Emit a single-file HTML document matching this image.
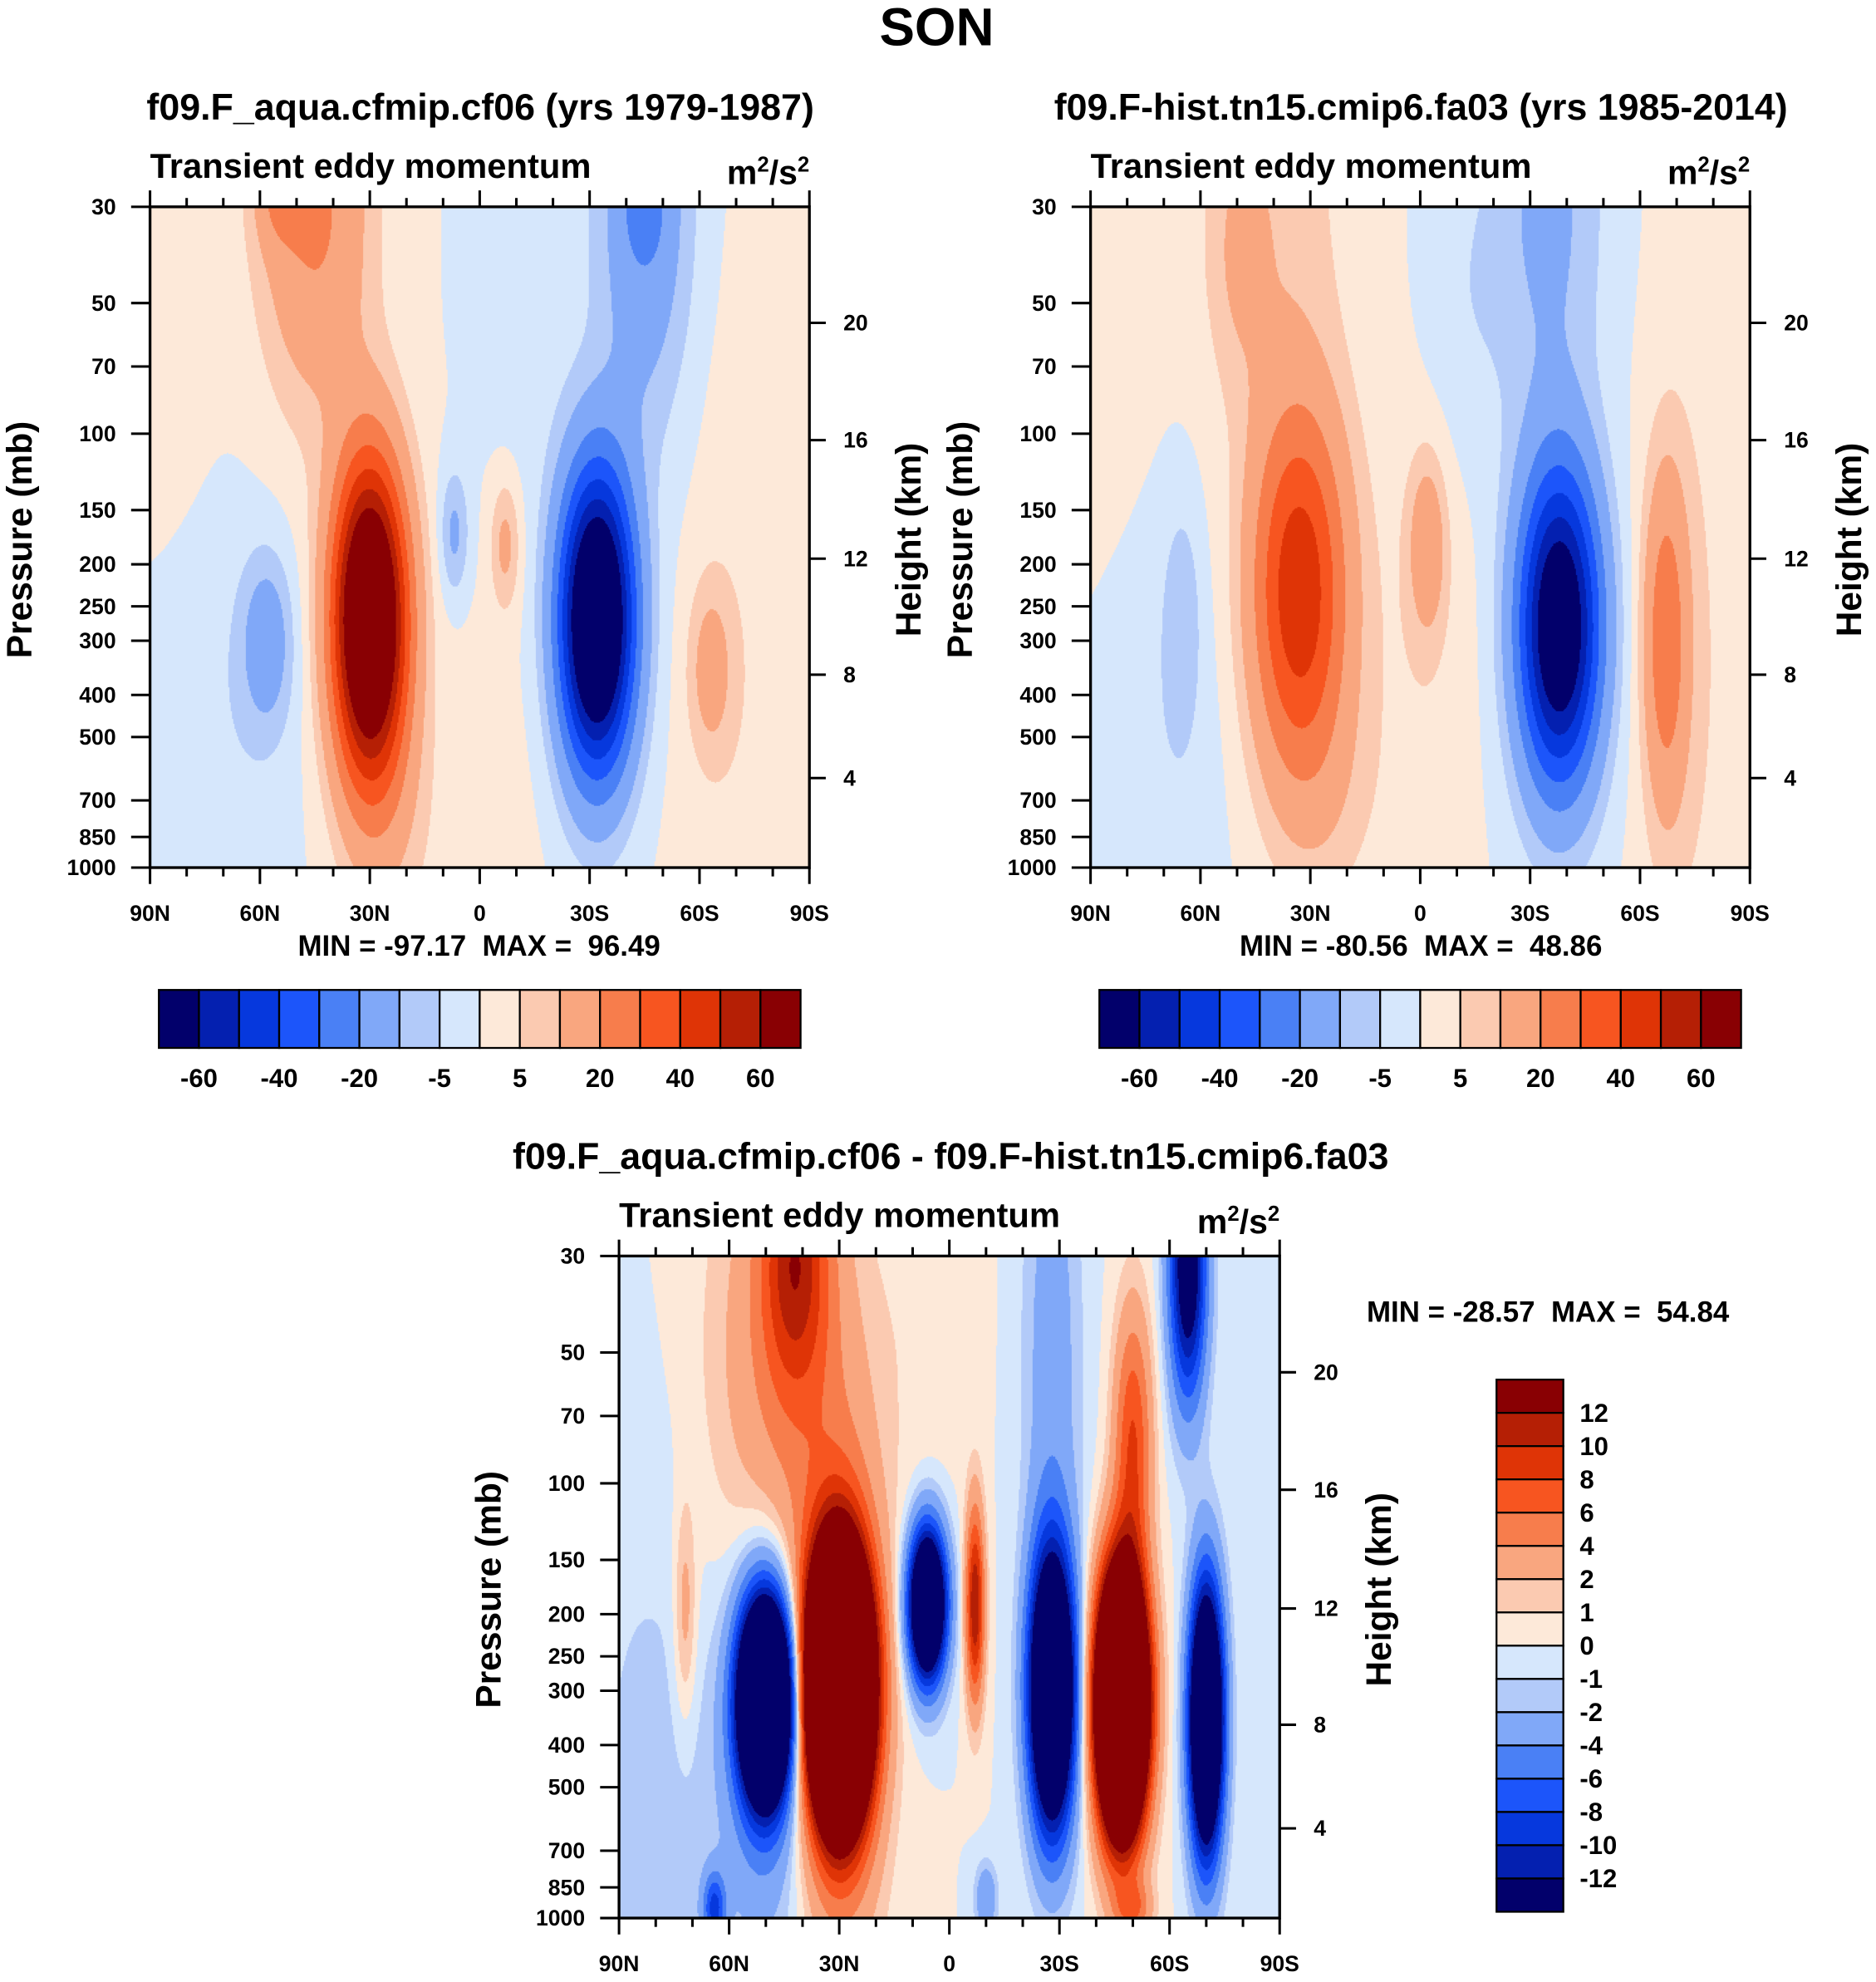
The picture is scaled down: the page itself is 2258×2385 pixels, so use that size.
<!DOCTYPE html>
<html><head><meta charset="utf-8">
<style>
html,body{margin:0;padding:0;background:#fff;}
#wrap{position:absolute;left:0;top:0;width:2258px;height:2385px;overflow:hidden;}
#page{position:absolute;left:0;top:0;width:1488px;height:1572px;transform:scale(1.51747,1.51747);transform-origin:0 0;}
canvas{position:absolute;}
svg{position:absolute;left:0;top:0;}
text{font-family:"Liberation Sans",Arial,sans-serif;font-weight:bold;fill:#000;white-space:pre;}
</style></head>
<body>
<div id="wrap">
<div id="page">
<canvas id="c1" style="left:119px;top:164px;width:523px;height:524px" width="1046" height="1048"></canvas>
<canvas id="c2" style="left:865px;top:164px;width:523px;height:524px" width="1046" height="1048"></canvas>
<canvas id="c3" style="left:491px;top:996px;width:524px;height:525px" width="1048" height="1050"></canvas>
<svg id="ov" width="1488" height="1572" viewBox="0 0 1488 1572">
<text x="743" y="36" font-size="42" text-anchor="middle">SON</text>
<text x="381" y="95" font-size="29.5" text-anchor="middle">f09.F_aqua.cfmip.cf06 (yrs 1979-1987)</text>
<text x="1127" y="95" font-size="29.5" text-anchor="middle">f09.F-hist.tn15.cmip6.fa03 (yrs 1985-2014)</text>
<text x="754" y="927" font-size="29.5" text-anchor="middle">f09.F_aqua.cfmip.cf06 - f09.F-hist.tn15.cmip6.fa03</text>
</svg>
</div></div>
<script>
// ---------- data ----------
const levels12 = [-60,-50,-40,-30,-20,-10,-5,0,5,10,20,30,40,50,60];
const levelsDiff = [-12,-10,-8,-6,-4,-2,-1,0,1,2,4,6,8,10,12];
const palette = ["#02006b","#0420b0","#0638dd","#1c55fa","#4a80f5","#80a8f8","#b2caf9","#d6e7fc","#fde9d9","#fbcab1","#f9a67f","#f77d4c","#f75520","#df3406","#b51f05","#890003"];
const latTicks = [90,60,30,0,-30,-60,-90];
const latTickLabels = ["90N","60N","30N","0","30S","60S","90S"];
const presTicks = [30,50,70,100,150,200,250,300,400,500,700,850,1000];
const heightTicks = [20,16,12,8,4];
const heightFrac = [0.1756,0.3531,0.5324,0.7080,0.8645];
const cbLabels12 = ["-60","-40","-20","-5","5","20","40","60"];
const cbLabelsDiff = ["12","10","8","6","4","2","1","0","-1","-2","-4","-6","-8","-10","-12"];
// blob features: latitude, pressure (mb), amplitude, lat width (deg), log-p width
const p1Lat = [30, 45, 55, -32, -45, -45, 58, 68, -75, -12, -63, 7, -7, 25, 0, 85];
const p1P   = [270, 30, 28, 270, 30, 30, 300, 450, 400, 40, 350, 170, 180, 800, 700, 40];
const p1Amp = [100, 22, 12, -97, -18, -12, -14, -4, 4, -4, 12, -12, 12, 6, 2, 4];
const p1Wl  = [10, 15, 6, 10, 13, 5, 7, 18, 20, 12, 6, 4, 4, 12, 20, 12];
const p1Wz  = [0.36, 0.45, 0.12, 0.34, 0.5, 0.12, 0.2, 0.45, 1.0, 0.45, 0.2, 0.15, 0.15, 0.3, 0.5, 0.5];
const p2Lat = [33, 40, 50, -38, -35, -2, 0, -67, 65, 68, -12, -75, 25, 85];
const p2P   = [230, 30, 40, 280, 30, 180, 300, 300, 260, 500, 50, 350, 700, 40];
const p2Amp = [48, 8, 6, -80, -12, 15, 4, 25, -7, -4, -4, 5, 5, 4];
const p2Wl  = [13, 20, 8, 11, 15, 5, 15, 6, 5, 15, 12, 15, 15, 12];
const p2Wz  = [0.42, 0.5, 0.3, 0.36, 0.5, 0.2, 0.6, 0.38, 0.25, 0.5, 0.4, 1.0, 0.3, 0.5];
const p3Lat = [72, 50, 50, 30, 30, 6, -7, -28, -47, -50, -70, -65, 42, 45, -28, 5, 80, 64, -50, -10];
const p3P   = [200, 315, 400, 295, 300, 190, 190, 300, 320, 80, 350, 32, 30, 60, 50, 40, 600, 950, 950, 900];
const p3Amp = [3, -40, -4, 60, 6, -28, 12, -30, 55, 8, -30, -16, 9, 4, -3, 0.8, -1.5, -8, 5, -4];
const p3Wl  = [3, 7, 12, 8, 12, 5, 2.5, 6, 6.5, 5, 4.5, 5, 9, 20, 8, 12, 20, 3, 5, 3];
const p3Wz  = [0.25, 0.22, 0.5, 0.28, 0.6, 0.17, 0.22, 0.31, 0.28, 0.3, 0.3, 0.3, 0.3, 0.6, 0.6, 0.4, 0.8, 0.08, 0.06, 0.08];

// ---------- axes helpers ----------
const L30 = Math.log10(30), LR = Math.log10(1000/30);
function xOf(lat, x0, w){ return x0 + (90-lat)/180*w; }
function yOf(p, y0, h){ return y0 + (Math.log10(p)-L30)/LR*h; }
function field(lat, p, A){
  const z = Math.log10(p); let s = 0;
  for(let i=0;i<A[0].length;i++){
    const dl=(lat-A[0][i])/A[3][i], dz=(z-Math.log10(A[1][i]))/A[4][i];
    s += A[2][i]*Math.exp(-dl*dl-dz*dz);
  }
  return s;
}
function colorFor(v, lev){ let k=0; while(k<lev.length && v>=lev[k]) k++; return palette[k]; }
function drawField(id, A, lev){
  const c=document.getElementById(id), ctx=c.getContext('2d');
  const W=c.width, H=c.height, step=2;
  for(let j=0;j<H;j+=step){
    const frac=(j+step/2)/H;
    const p=Math.pow(10, L30+frac*LR);
    for(let i=0;i<W;i+=step){
      const lat=90-(i+step/2)/W*180;
      ctx.fillStyle=colorFor(field(lat,p,A),lev);
      ctx.fillRect(i,j,step,step);
    }
  }
}
drawField('c1',[p1Lat,p1P,p1Amp,p1Wl,p1Wz],levels12);
drawField('c2',[p2Lat,p2P,p2Amp,p2Wl,p2Wz],levels12);
drawField('c3',[p3Lat,p3P,p3Amp,p3Wl,p3Wz],levelsDiff);

const NS='http://www.w3.org/2000/svg', ov=document.getElementById('ov');
function el(tag, attrs, txt){ const e=document.createElementNS(NS,tag); for(const k in attrs) e.setAttribute(k,attrs[k]); if(txt!==undefined) e.textContent=txt; ov.appendChild(e); return e; }

function axes(x0,y0,w,h,n,minmax,mmx,mmy,mmAnchor){
  let e=el('rect',{x:x0,y:y0,width:w,height:h,fill:'none',stroke:'#000','stroke-width':2.2});
  
  
  for(let lat=90;lat>=-90;lat-=10){
    const x=xOf(lat,x0,w), major=(lat%30===0), len=major?13:7;
    el('line',{x1:x,x2:x,y1:y0+h,y2:y0+h+len,stroke:'#000','stroke-width':2});
    el('line',{x1:x,x2:x,y1:y0,y2:y0-len,stroke:'#000','stroke-width':2});
  }
  latTicks.forEach((lat,i)=>{
    const t=el('text',{x:xOf(lat,x0,w),y:y0+h+42,'font-size':17.5,'text-anchor':'middle'},latTickLabels[i]);
    
    
  });
  presTicks.forEach(p=>{
    const y=yOf(p,y0,h);
    el('line',{x1:x0-15,x2:x0,y1:y,y2:y,stroke:'#000','stroke-width':2});
    const t=el('text',{x:x0-27,y:y+6,'font-size':17.5,'text-anchor':'end'},String(p));
    
    
  });
  heightTicks.forEach((km,i)=>{
    const y=y0+heightFrac[i]*h;
    el('line',{x1:x0+w,x2:x0+w+13,y1:y,y2:y,stroke:'#000','stroke-width':2});
    const t=el('text',{x:x0+w+27,y:y+6,'font-size':17.5},String(km));
    
    
  });
  let t=el('text',{x:x0,y:y0-23,'font-size':27.5},'Transient eddy momentum');
  
  
  t=el('text',{x:x0+w,y:y0-18,'font-size':27,'text-anchor':'end'});
  t.innerHTML='m<tspan dy="-10" font-size="17">2</tspan><tspan dy="10">/s</tspan><tspan dy="-10" font-size="17">2</tspan>';
  
  
  const cy=y0+h/2+2;
  t=el('text',{x:0,y:0,'font-size':28,'text-anchor':'middle',transform:`translate(${x0-94},${cy}) rotate(-90)`},'Pressure (mb)');
  
  
  t=el('text',{x:0,y:0,'font-size':28,'text-anchor':'middle',transform:`translate(${x0+w+88},${cy}) rotate(-90)`},'Height (km)');
  
  
  t=el('text',{x:mmx,y:mmy,'font-size':23,'text-anchor':mmAnchor},minmax);
  
  
}
axes(119,164,523,524,1,'MIN = -97.17  MAX =  96.49',380,758,'middle');
axes(865,164,523,524,2,'MIN = -80.56  MAX =  48.86',1127,758,'middle');
axes(491,996,524,525,3,'MIN = -28.57  MAX =  54.84',1084,1048,'start');

function hbar(x0,y0,w,h,n){
  const bw=w/16;
  for(let k=0;k<16;k++){
    const r=el('rect',{x:x0+k*bw,y:y0,width:bw,height:h,fill:palette[k],stroke:'#000','stroke-width':1.5});
    
    
  }
  cbLabels12.forEach((s,i)=>{
    const t=el('text',{x:x0+(2*i+1)*bw,y:y0+h+31,'font-size':20.5,'text-anchor':'middle'},s);
    
    
  });
}
hbar(126,785,509,46,1);
hbar(872,785,509,46,2);
(function(){
  const x0=1187,y0=1094,w=53,h=422,bh=h/16;
  for(let k=0;k<16;k++){
    const r=el('rect',{x:x0,y:y0+k*bh,width:w,height:bh,fill:palette[15-k],stroke:'#000','stroke-width':1.5});
    
    
  }
  cbLabelsDiff.forEach((s,i)=>{
    const t=el('text',{x:x0+w+13,y:y0+(i+1)*bh+7,'font-size':20.5},s);
    
    
  });
})();
</script>
</body></html>
